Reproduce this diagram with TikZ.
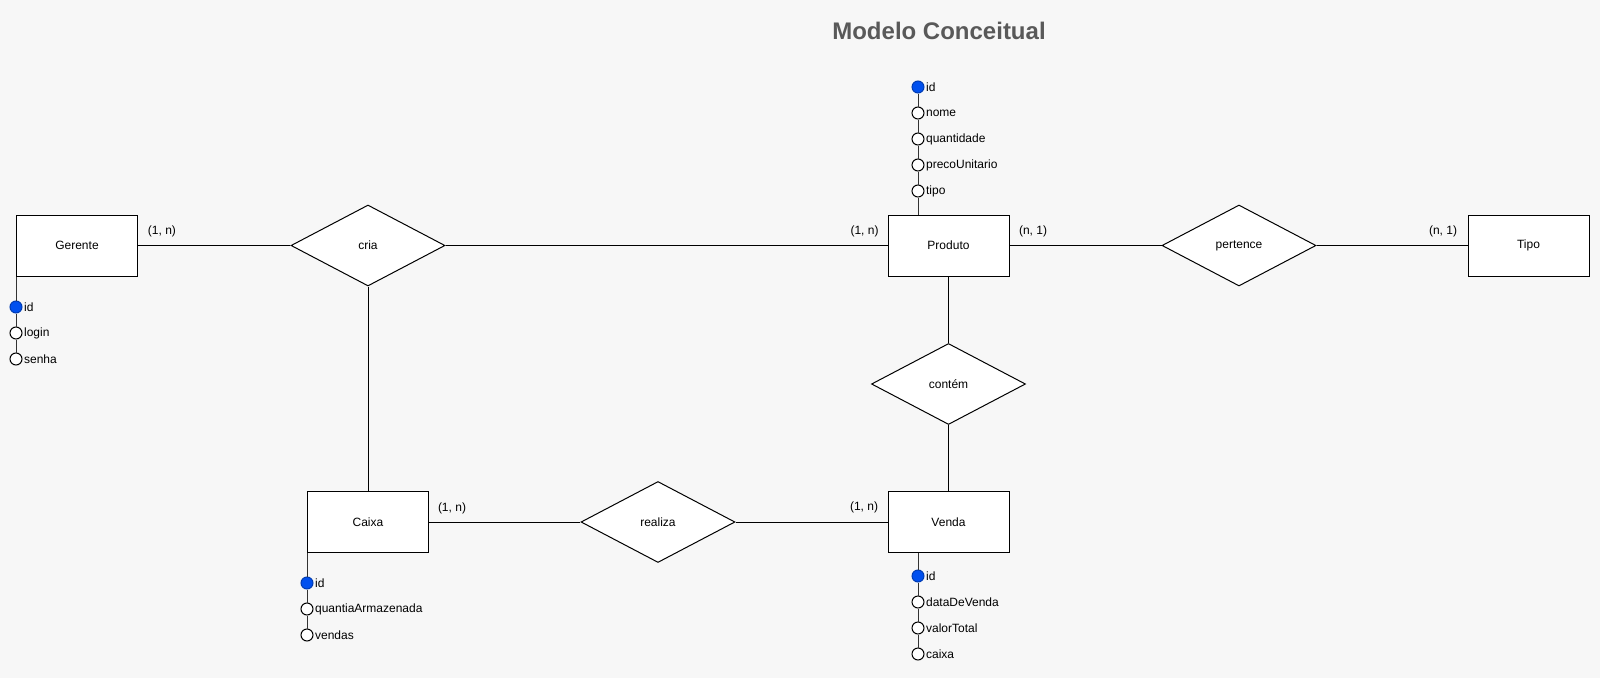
\documentclass[tikz,border=0pt]{standalone}
\usepackage{fontspec}
\setmainfont{Liberation Sans}
\usetikzlibrary{shapes.geometric,positioning}
\definecolor{erBack}{HTML}{F7F7F7}
\definecolor{erKey}{HTML}{0050EF}
\definecolor{erTitle}{HTML}{595959}
\tikzset{
  er text/.style={font=\fontsize{9}{11}\selectfont},
  entity/.style={er text, draw, fill=white, line width=0.75pt,
    minimum width=90.75pt, minimum height=45.75pt, inner sep=0pt},
  relation/.style={er text, diamond, draw, fill=white, line width=0.75pt,
    minimum width=115.5pt, minimum height=60.75pt, inner sep=0pt},
  link/.style={draw=black, line width=0.75pt},
  attr link/.style={draw=black!80, line width=0.75pt},
  attr/.style={circle, draw, fill=white, line width=0.75pt,
    minimum size=9pt, inner sep=0pt},
  key attr/.style={attr, draw=erKey!75!black, fill=erKey},
  attr text/.style={er text, inner sep=0pt},
  card/.style={er text, inner sep=0pt},
  title/.style={font=\bfseries\fontsize{18}{22}\selectfont, text=erTitle}
}
\begin{document}
\begin{tikzpicture}[x=0.75pt, y=-0.75pt, node distance=9.75pt]
  \path[fill=erBack, use as bounding box] (0,0) rectangle (1600,678);
  \node[title] (title) at (939,31) {Modelo Conceitual};

  % entities and relationships
  \node[entity] (ger) at (77,245.5) {Gerente};
  \node[relation] (cria) at (368,245.5) {cria};
  \node[entity] (prod) at (948.5,245.5) {Produto};
  \node[relation] (pert) at (1239,245.5) {pertence};
  \node[entity] (tipo) at (1528.5,245.5) {Tipo};
  \node[relation] (cont) at (948.5,384) {contém};
  \node[entity] (caixa) at (368,522) {Caixa};
  \node[relation] (real) at (658,522) {realiza};
  \node[entity] (venda) at (948.5,522) {Venda};

  \draw[link] (ger) -- (cria);
  \draw[link] (cria) -- (prod);
  \draw[link] (prod) -- (pert);
  \draw[link] (pert) -- (tipo);
  \draw[link] (cria) -- (caixa);
  \draw[link] (prod) -- (cont);
  \draw[link] (cont) -- (venda);
  \draw[link] (caixa) -- (real);
  \draw[link] (real) -- (venda);

  % cardinalities
  \node[card] (cGer) at (162,231) {(1, n)};
  \node[card] (cProdL) at (864.5,231) {(1, n)};
  \node[card] (cProdR) at (1033,231) {(n, 1)};
  \node[card] (cTipo) at (1443,231) {(n, 1)};
  \node[card] (cCaixa) at (452,508) {(1, n)};
  \node[card] (cVenda) at (864,507) {(1, n)};

  % Produto attributes
  \node[key attr] (prod-id) at (918,87) {};
  \node[attr text, right=1pt of prod-id] (prod-id-txt) {id};
  \foreach \a [remember=\a as \prev (initially id)] in {nome,quantidade,precoUnitario,tipo} {
    \node[attr, below=of prod-\prev] (prod-\a) {};
    \node[attr text, right=1pt of prod-\a] (prod-\a-txt) {\a};
    \draw[attr link] (prod-\prev) -- (prod-\a);
  }
  \draw[attr link] (prod-tipo) -- (prod-tipo |- prod.north);

  % Gerente attributes
  \node[key attr] (ger-id) at (16,307) {};
  \node[attr text, right=1pt of ger-id] (ger-id-txt) {id};
  \draw[attr link] (ger.south west) -- (ger-id);
  \foreach \a [remember=\a as \prev (initially id)] in {login,senha} {
    \node[attr, below=of ger-\prev] (ger-\a) {};
    \node[attr text, right=1pt of ger-\a] (ger-\a-txt) {\a};
    \draw[attr link] (ger-\prev) -- (ger-\a);
  }

  % Caixa attributes
  \node[key attr] (caixa-id) at (307,583) {};
  \node[attr text, right=1pt of caixa-id] (caixa-id-txt) {id};
  \draw[attr link] (caixa.south west) -- (caixa-id);
  \foreach \a [remember=\a as \prev (initially id)] in {quantiaArmazenada,vendas} {
    \node[attr, below=of caixa-\prev] (caixa-\a) {};
    \node[attr text, right=1pt of caixa-\a] (caixa-\a-txt) {\a};
    \draw[attr link] (caixa-\prev) -- (caixa-\a);
  }

  % Venda attributes
  \node[key attr] (venda-id) at (918,576) {};
  \node[attr text, right=1pt of venda-id] (venda-id-txt) {id};
  \draw[attr link] (venda-id |- venda.south) -- (venda-id);
  \foreach \a [remember=\a as \prev (initially id)] in {dataDeVenda,valorTotal,caixa} {
    \node[attr, below=of venda-\prev] (venda-\a) {};
    \node[attr text, right=1pt of venda-\a] (venda-\a-txt) {\a};
    \draw[attr link] (venda-\prev) -- (venda-\a);
  }
\end{tikzpicture}
\end{document}
